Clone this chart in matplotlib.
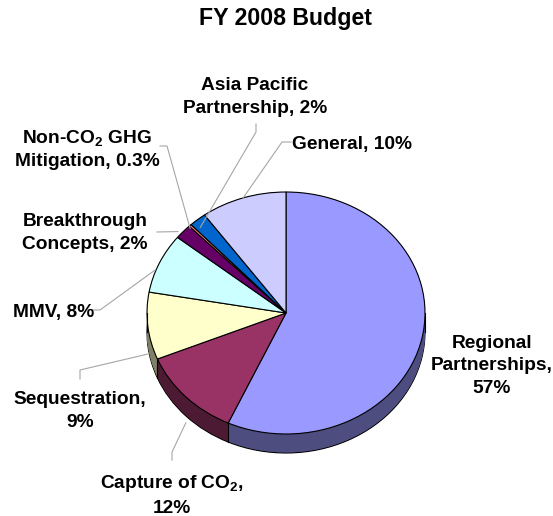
import numpy as np
import matplotlib
matplotlib.use('Agg')
import matplotlib.pyplot as plt
from matplotlib.colors import to_rgb

plt.rcParams['font.family'] = ['Liberation Sans', 'DejaVu Sans']
plt.rcParams['font.weight'] = 'bold'

########### data of the chart #############
categories = ['Regional\nPartnerships,\n57%',
	'Capture of CO$\\mathregular{_2}$,\n12%',
	'Sequestration,\n9%',
	'MMV, 8%',
	'Breakthrough\nConcepts, 2%',
	'Non-CO$\\mathregular{_2}$ GHG\nMitigation, 0.3%',
	'Asia Pacific\nPartnership, 2%',
	'General, 10%']
values = [57, 12, 9, 8, 2, 0.3, 2, 10]
topColors = ['#9999FF', '#993366', '#FFFFCC', '#CCFFFF', '#660066', '#FF8080', '#0066CC', '#CCCCFF']
title = 'FY 2008 Budget'

########### layout (pixels) #############
W, H = 553, 516
cx, cy, rx, ry, depth = 286, 313, 139, 121, 19
# text centre, alignment, leader start points, anchor radius and drop on the pie
labelPos = [(492, 366, 'center'), (172, 495, 'center'), (80, 411, 'center'), (13, 312, 'left'),
	(85, 233, 'center'), (87, 149, 'center'), (255, 97, 'center'), (292, 144, 'left')]
leaderStart = [None, [(172, 460), (172, 452)], [(80, 379), (80, 370)], [(93, 310), (100, 310)],
	[(157, 232)], [(160, 146), (167, 146)], [(256, 124), (256, 132)], [(291, 142), (282, 142)]]
anchorR = [1.0, 1.0, 1.0, 1.03, 1.05, 1.0, 0.97, 1.0]
anchorDrop = [0, 26, 28, 8, 4, 3, 5, 0]

fig = plt.figure(figsize=(W / 100, H / 100), dpi=100)
dep = depth / ry
pa = fig.add_axes([(cx - rx) / W, (H - (cy + ry + depth)) / H, 2 * rx / W, (2 * ry + depth) / H])
sideColors = [tuple(0.5 * c for c in to_rgb(col)) for col in topColors]

## side of the 3D pie: stack of darker pies
for k, off in enumerate(np.linspace(dep, 0, 30)):
	pa.pie(values, colors=sideColors, startangle=90, counterclock=False, center=(0, -off), radius=1,
		wedgeprops=dict(linewidth=0.8 if k == 0 else 0, edgecolor='black', clip_on=False))
## vertical edges on the visible side
bounds = 90 - 360 * np.cumsum([0] + values) / np.sum(values)
for a in list(bounds) + [0, 180]:
	t = np.deg2rad(a)
	if np.sin(t) <= 0.001:
		pa.plot([np.cos(t), np.cos(t)], [np.sin(t), np.sin(t) - dep], color='black', lw=0.8, clip_on=False)
## top face
pa.pie(values, colors=topColors, startangle=90, counterclock=False, center=(0, 0), radius=1,
	wedgeprops=dict(linewidth=0.8, edgecolor='black', clip_on=False))
pa.set_aspect('auto')
pa.set_xlim(-1, 1)
pa.set_ylim(-1 - dep, 1)
pa.axis('off')

ax = fig.add_axes([0, 0, 1, 1])
ax.set_xlim(0, W)
ax.set_ylim(H, 0)
ax.axis('off')
ax.patch.set_alpha(0)

ax.text(285, 19, title, ha='center', va='center', fontsize=16.7, fontweight='bold')

mids = 90 - 360 * (np.cumsum(values) - np.array(values) / 2) / np.sum(values)
for i, lab in enumerate(categories):
	tx, ty, ha = labelPos[i]
	ax.text(tx, ty, lab, ha=ha, va='center', multialignment='center', fontsize=13.8,
		fontweight='bold', linespacing=1.4)
	if leaderStart[i] is None:
		continue
	t = np.deg2rad(mids[i])
	axx = cx + rx * anchorR[i] * np.cos(t)
	axy = cy - ry * anchorR[i] * np.sin(t) + anchorDrop[i]
	pts = leaderStart[i] + [(axx, axy)]
	ax.plot([p[0] for p in pts], [p[1] for p in pts], color='#A6A6A6', lw=0.8)

fig.savefig('out.png', dpi=100)
